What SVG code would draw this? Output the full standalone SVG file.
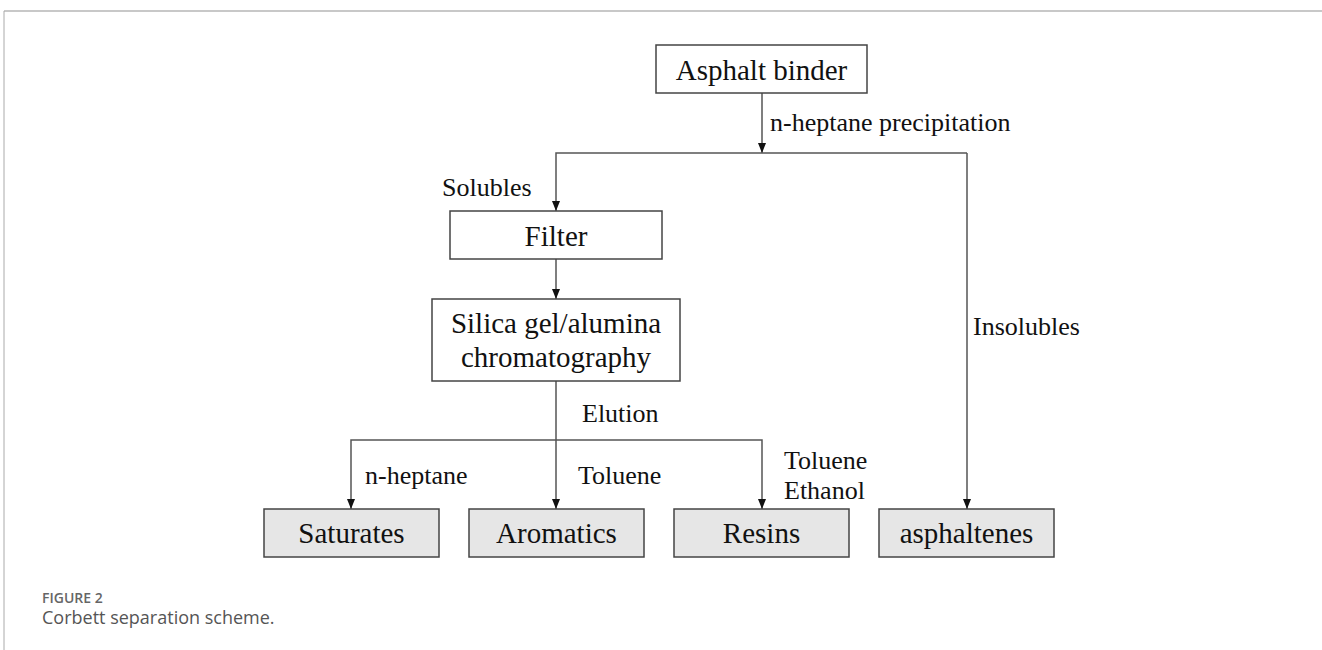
<svg xmlns="http://www.w3.org/2000/svg" width="1322" height="650" viewBox="0 0 1322 650">
<style>
.box{fill:#fff;stroke:#444;stroke-width:1.5}
.res{fill:#e6e6e6;stroke:#444;stroke-width:1.5}
.nt{font-family:"Liberation Serif",serif;font-size:29px;fill:#111;text-anchor:middle}
.lb{font-family:"Liberation Serif",serif;font-size:26px;fill:#111}
.ln{fill:none;stroke:#555;stroke-width:1.5}
</style>
<defs>
<marker id="ah" viewBox="0 0 10 10" refX="10" refY="5" markerWidth="10" markerHeight="10" markerUnits="userSpaceOnUse" orient="auto">
<path d="M0,1 L10,5 L0,9 Z" fill="#111"/>
</marker>
</defs>
<rect width="1322" height="650" fill="#fff"/>
<line x1="4" y1="11" x2="1322" y2="11" stroke="#c8c8c8" stroke-width="2"/>
<line x1="4" y1="11" x2="4" y2="650" stroke="#aaa" stroke-width="1"/>
<g id="connectors">
<path class="ln" d="M762,93 V153" marker-end="url(#ah)"/>
<path class="ln" d="M967,153 H556 V211" marker-end="url(#ah)"/>
<path class="ln" d="M967,153 V509" marker-end="url(#ah)"/>
<path class="ln" d="M556,259 V299" marker-end="url(#ah)"/>
<path class="ln" d="M556,381 V509" marker-end="url(#ah)"/>
<path class="ln" d="M556,440 H351 V509" marker-end="url(#ah)"/>
<path class="ln" d="M556,440 H762 V509" marker-end="url(#ah)"/>
<text class="lb" x="770" y="131">n-heptane precipitation</text>
<text class="lb" x="442" y="196">Solubles</text>
<text class="lb" x="973" y="335">Insolubles</text>
<text class="lb" x="582" y="422">Elution</text>
<text class="lb" x="365" y="484">n-heptane</text>
<text class="lb" x="578" y="484">Toluene</text>
<text class="lb" x="784" y="469">Toluene</text>
<text class="lb" x="784" y="499">Ethanol</text>
</g>
<g id="asphalt-binder"><rect class="box" x="656" y="45" width="211" height="48"/><text class="nt" x="761.5" y="80">Asphalt binder</text></g>
<g id="filter"><rect class="box" x="450" y="211" width="212" height="48"/><text class="nt" x="556" y="246">Filter</text></g>
<g id="chromatography"><rect class="box" x="432" y="299" width="248" height="82"/><text class="nt" x="556" y="333">Silica gel/alumina</text><text class="nt" x="556" y="367">chromatography</text></g>
<g id="saturates"><rect class="res" x="264" y="509" width="175" height="48"/><text class="nt" x="351.5" y="543">Saturates</text></g>
<g id="aromatics"><rect class="res" x="469" y="509" width="175" height="48"/><text class="nt" x="556.5" y="543">Aromatics</text></g>
<g id="resins"><rect class="res" x="674" y="509" width="175" height="48"/><text class="nt" x="761.5" y="543">Resins</text></g>
<g id="asphaltenes"><rect class="res" x="879" y="509" width="175" height="48"/><text class="nt" x="966.5" y="543">asphaltenes</text></g>
<g id="caption">
<text x="42" y="603" font-family="'Open Sans',sans-serif" font-size="14" font-weight="600" fill="#666">FIGURE 2</text>
<text x="42" y="624" font-family="'Open Sans',sans-serif" font-size="18" fill="#555">Corbett separation scheme.</text>
</g>
</svg>
